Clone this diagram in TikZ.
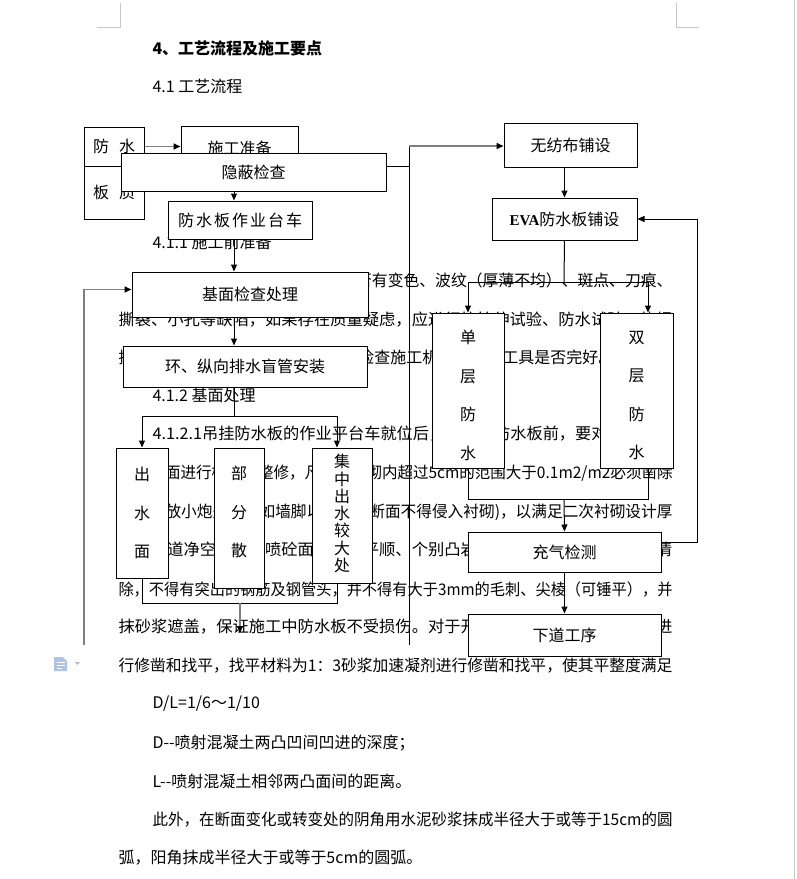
\documentclass[tikz,border=0pt]{standalone}
\usepackage{fontspec}
\usepackage{graphicx}
\setmainfont{Noto Sans CJK SC}
\newfontfamily\evafont{Liberation Serif}
\usetikzlibrary{arrows.meta}
\definecolor{lineGray}{HTML}{808080}
\definecolor{pageGray}{HTML}{C8C8C8}
\definecolor{iconBlue}{HTML}{AFC4E4}
\newcommand\bodyfont{\fontsize{16}{38.6}\selectfont}
\newcommand\jline[2]{\resizebox{#1pt}{\height}{#2}}

\begin{document}
\begin{tikzpicture}[
  x=1pt, y=-1pt,
  txt/.style={anchor=west, inner sep=0pt, font=\bodyfont},
  box/.style={draw, fill=white, line width=1pt, inner sep=0pt, font=\bodyfont},
  vtxt/.style={inner sep=0pt, align=center, font=\bodyfont},
  arrow/.style={-{Triangle[length=7pt,width=6pt]}, line width=1pt},
  garrow/.style={-{Triangle[length=7pt,width=6pt,color=black]}, line width=1.6pt, draw=lineGray},
  line width=1pt
]
\fill[white] (0,0) rectangle (796,879);
\useasboundingbox (0,0) rectangle (796,879);
\draw[pageGray] (120,3) -- (120,27) -- (97,27);
\draw[pageGray] (676,3) -- (676,27) -- (699,27);
\draw[pageGray] (794.5,0) -- (794.5,879);
\fill[iconBlue] (54,657) -- (63,657) -- (67,661) -- (67,671) -- (54,671) -- cycle;
\draw[white] (56.5,662) -- (64.5,662) (56.5,665) -- (64.5,665) (56.5,668) -- (62,668);
\fill[gray!55] (75,662) -- (80,662) -- (77.5,665) -- cycle;

\node[txt, font=\bodyfont\bfseries] (title) at (152,48) {4、工艺流程及施工要点};
\node[txt] (sub) at (152,86) {4.1 工艺流程};
\node[txt] (h411) at (152,242) {4.1.1 施工前准备};
\node[txt] (p1) at (150,281) {\jline{522}{防水板进场后，检查其表面是否有变色、波纹（厚薄不均）、斑点、刀痕、}};
\node[txt] (p2) at (118,320) {\jline{554}{撕裂、小孔等缺陷，如果存在质量疑虑，应进行抗拉伸试验、防水试验、热焊}};
\node[txt] (p3) at (118,358) {接试验，检验合格后方可使用，并检查施工机具，各种工具是否完好。};
\node[txt] (h412) at (152,395) {4.1.2 基面处理};
\node[txt] (p4) at (152,434) {\jline{520}{4.1.2.1吊挂防水板的作业平台车就位后，在铺设防水板前，要对初期支护}};
\node[txt] (p5) at (118,473) {\jline{554}{喷射砼面进行检查、整修，凡侵入衬砌内超过5cm的范围大于0.1m2/m2必须凿除}};
\node[txt] (p6) at (118,512) {\jline{554}{可采用放小炮处理（如墙脚以上部位断面不得侵入衬砌)，以满足二次衬砌设计厚}};
\node[txt] (p7) at (118,550) {\jline{554}{度和隧道净空；对初喷砼面，要求平顺、个别凸岩部位应凿除，表面浮渣应清}};
\node[txt] (p8) at (118,589) {\jline{554}{除，不得有突出的钢筋及钢管头，并不得有大于3mm的毛刺、尖棱（可锤平），并}};
\node[txt] (p9) at (118,627) {\jline{554}{抹砂浆遮盖，保证施工中防水板不受损伤。对于开挖面凹凸不平的部位，应进}};
\node[txt] (p10) at (118,666) {\jline{554}{行修凿和找平，找平材料为1：3砂浆加速凝剂进行修凿和找平，使其平整度满足}};
\node[txt] (p11) at (152,704) {D/L=1/6～1/10};
\node[txt] (p12) at (152,743) {D-\kern0pt-\kern0pt 喷射混凝土两凸凹间凹进的深度；};
\node[txt] (p13) at (152,781) {L-\kern0pt-\kern0pt 喷射混凝土相邻两凸面间的距离。};
\node[txt] (p14) at (152,820) {\jline{520}{此外，在断面变化或转变处的阴角用水泥砂浆抹成半径大于或等于15cm的圆}};
\node[txt] (p15) at (118,858) {弧，阳角抹成半径大于或等于5cm的圆弧。};

\node[box, minimum width=60, minimum height=39] (matTop) at (114,146.5) {防\hspace{10pt}水};
\node[box, minimum width=60, minimum height=53] (matBot) at (114,192.5) {板\hspace{10pt}质};
\node[box, minimum width=117, minimum height=44] (prep) at (239.5,148) {施工准备};
\node[box, minimum width=265, minimum height=38] (hide) at (253.5,172) {隐蔽检查};
\node[box, minimum width=144, minimum height=38] (cart) at (240,220) {防\kern2pt 水\kern2pt 板\kern2pt 作\kern2pt 业\kern2pt 台\kern2pt 车};
\node[box, minimum width=236, minimum height=45] (base) at (250,294.5) {基面检查处理};
\node[box, minimum width=244, minimum height=41] (pipe) at (245,366.5) {环、纵向排水盲管安装};
\node[box, minimum width=52, minimum height=130, label={[vtxt, name=outAtxt]center:出\\水\\面}] (outA) at (142,513) {};
\node[box, minimum width=50, minimum height=140, label={[vtxt, name=outBtxt, yshift=6]center:部\\分\\散}] (outB) at (239,518) {};
\node[box, minimum width=60, minimum height=135, label={[vtxt, name=outCtxt, yshift=2, font=\fontsize{16}{17.3}\selectfont]center:集\\中\\出\\水\\较\\大\\处}] (outC) at (342,515.5) {};

\node[box, minimum width=133, minimum height=44] (fabric) at (570.5,145) {无纺布铺设};
\node[box, minimum width=145, minimum height=42] (eva) at (564.5,219) {{\evafont\fontsize{15}{18}\selectfont\bfseries EVA}防水板铺设};
\node[box, minimum width=72, minimum height=155, label={[vtxt, name=singleTxt, yshift=-5]center:单\\层\\防\\水}] (single) at (468,390.5) {};
\node[box, minimum width=73, minimum height=155, label={[vtxt, name=doubleTxt, yshift=-5]center:双\\层\\防\\水}] (double) at (636.5,390.5) {};
\node[box, minimum width=193, minimum height=40] (inflate) at (564.5,552) {充气检测};
\node[box, minimum width=193, minimum height=42] (next) at (564.5,635) {下道工序};

\coordinate (spine) at (234,0);
\coordinate (busR) at (409,146);
\coordinate (busRb) at (409,645);
\coordinate (busL) at (84,645);
\coordinate (forkL) at (234,416);
\coordinate (joinL) at (240,603);
\coordinate (joinEnd) at (240,633);
\coordinate (forkR) at (564,282);
\coordinate (joinR) at (564,499);
\coordinate (loopR) at (697,542);

\draw[garrow] (matTop.east) -- (matTop.east -| prep.west);
\draw ([yshift=6]hide.east) -- ([yshift=6]hide.east -| busR);
\draw (busRb) -- (busR);
\draw[garrow] (busR) -- (busR -| fabric.west);
\draw[arrow] (spine |- hide.south) -- (spine |- cart.north);
\draw[arrow] (spine |- cart.south) -- (spine |- base.north);
\draw[arrow] (spine |- base.south) -- (spine |- pipe.north);
\draw[garrow] (busL) |- ([yshift=5]base.west);
\draw (spine |- pipe.south) -- (forkL);
\draw[arrow] (forkL) -| (outA.north);
\draw[arrow] (forkL) -| ([xshift=-5]outC.north);
\draw (outA.south) |- (joinL);
\draw ([xshift=-5]outC.south) |- (joinL);
\draw[garrow] (joinL) -- (joinEnd);

\draw[arrow] (eva.north |- fabric.south) -- (eva.north);
\draw (eva.south) -- (forkR);
\draw[arrow] (forkR) -| (single.north);
\draw[arrow] (forkR) -| ([xshift=11.5]double.north);
\draw (single.south) |- (joinR);
\draw ([xshift=11.5]double.south) |- (joinR);
\draw[arrow] (joinR) -- (inflate.north);
\draw[arrow] (inflate.south) -- (next.north);
\draw[arrow] ([yshift=10]inflate.east) -- (loopR) |- (eva.east);
\end{tikzpicture}
\end{document}
